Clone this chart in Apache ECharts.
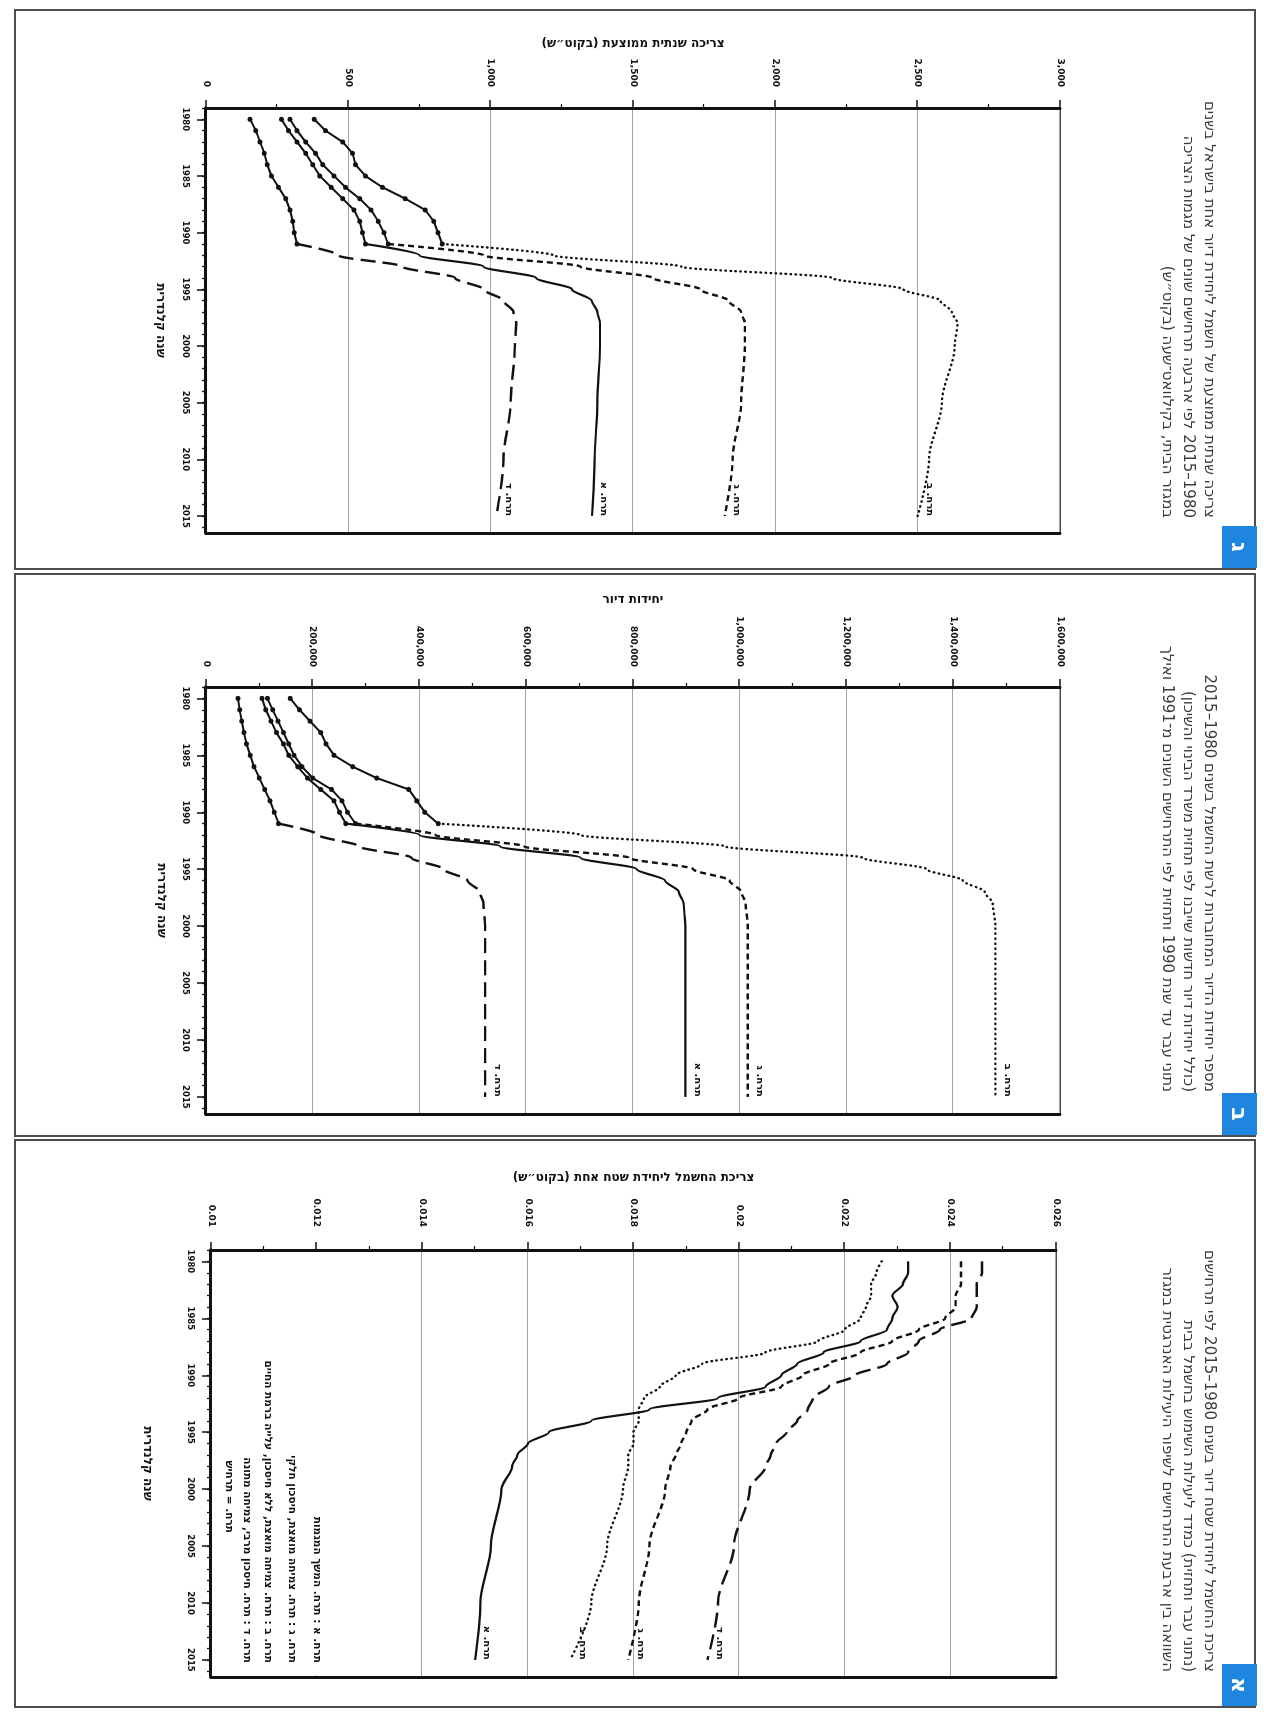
<!DOCTYPE html>
<html lang="he">
<head>
<meta charset="utf-8">
<title>צריכת חשמל במגזר הביתי — תרחישים</title>
<script src="https://cdn.jsdelivr.net/npm/echarts@6.0.0/dist/echarts.min.js"></script>
<style>
  html, body { margin: 0; padding: 0; background: #fff; }
  body { width: 1264px; height: 1713px; overflow: hidden; position: relative; }
  /* the page is scanned on its side: lay it out upright, then turn it 90deg clockwise */
  #page {
    position: absolute; left: 0; top: 0;
    width: 1713px; height: 1264px;
    transform-origin: 0 0;
    transform: translateX(1264px) rotate(90deg);
  }
  #chart { position: absolute; left: 0; top: 0; width: 1713px; height: 1264px; }
  .frame { position: absolute; top: 8px; height: 1242px; border: 2px solid #4d4d4d; box-sizing: border-box; }
  .caption {
    position: absolute; top: 44px; width: 500px;
    direction: rtl; text-align: right; white-space: nowrap;
    font: 15px/21px 'DejaVu Sans', sans-serif; color: #3a3a3a;
  }
  .badge {
    position: absolute; top: 7px; width: 42px; height: 35px;
    background: #1f86e0; color: #fff; text-align: center;
    font: bold 22px/35px 'DejaVu Sans', sans-serif;
  }
</style>
</head>
<body>
<div id="page">
  <div class="frame" style="left:9px;width:561px"></div>
  <div class="frame" style="left:573px;width:564px"></div>
  <div class="frame" style="left:1139px;width:569px"></div>

  <div id="chart" dir="rtl"></div>

  <div class="caption" style="left:18px">
    צריכה שנתית ממוצעת של חשמל ליחידת דיור אחת בישראל בשנים<br>
    1980–2015 לפי ארבעה תרחישים שונים של מגמות הצריכה<br>
    במגזר הביתי, בקילוואט־שעה (בקוט״ש)
  </div>
  <div class="caption" style="left:592px">
    מספר יחידות הדיור המחוברות לרשת החשמל בשנים 1980–2015<br>
    (כולל יחידות דיור חדשות שייבנו לפי תחזית משרד הבינוי והשיכון)<br>
    נתוני עבר עד שנת 1990 ותחזית לפי התרחישים השונים מ־1991 ואילך
  </div>
  <div class="caption" style="left:1172px">
    צריכת החשמל ליחידת שטח דיור בשנים 1980–2015 לפי תרחישים<br>
    (נתוני עבר ותחזית) כמדד ליעילות השימוש בחשמל בבית<br>
    השוואה בין ארבעת התרחישים לשיפור היעילות האנרגטית במגזר
  </div>

  <div class="badge" style="left:526px">ג</div>
  <div class="badge" style="left:1093px">ב</div>
  <div class="badge" style="left:1664px">א</div>
</div>

<script>
// ---------- data ----------
const YEAR_LABELS = [1980, 1985, 1990, 1995, 2000, 2005, 2010, 2015];
const YEAR_TICKS = [];
for (let y = 1979; y <= 2016; y++) YEAR_TICKS.push(y);

// scenario order: A solid, B dotted, C short dash, D long dash
const SCENARIOS = ['תרח. א', 'תרח. ב', 'תרח. ג', 'תרח. ד'];

const HIST_YEARS = [1980, 1981, 1982, 1983, 1984, 1985, 1986, 1987, 1988, 1989, 1990, 1991];
const PROJ_YEARS = [1991, 1992, 1993, 1994, 1995, 1996, 1997, 1998, 2000, 2005, 2010, 2015];
const ALEF_YEARS = [1980, 1981, 1982, 1983, 1984, 1985, 1986, 1987, 1988, 1989, 1990, 1991,
                    1992, 1993, 1994, 1995, 1996, 1997, 1998, 2000, 2005, 2010, 2015];

// panel ג — average yearly consumption
const GIMEL_HIST_A = [265, 290, 320, 350, 375, 400, 440, 480, 520, 540, 550, 560];
const GIMEL_HIST_B = [380, 420, 480, 515, 525, 560, 620, 700, 770, 800, 815, 830];
const GIMEL_HIST_C = [295, 320, 350, 385, 410, 450, 490, 540, 580, 605, 625, 640];
const GIMEL_HIST_D = [155, 175, 190, 205, 215, 230, 255, 280, 295, 305, 310, 320];
const GIMEL_PROJ_A = [560, 750, 975, 1160, 1285, 1355, 1375, 1384, 1384, 1375, 1365, 1356];
const GIMEL_PROJ_B = [830, 1220, 1670, 2200, 2450, 2580, 2620, 2640, 2630, 2585, 2540, 2500];
const GIMEL_PROJ_C = [640, 975, 1315, 1570, 1735, 1835, 1880, 1893, 1893, 1880, 1850, 1822];
const GIMEL_PROJ_D = [320, 465, 690, 875, 975, 1045, 1080, 1090, 1085, 1070, 1045, 1020];

// panel ב — dwelling units
const BET_HIST_A = [105000, 112000, 122000, 132000, 145000, 155000, 172000, 190000, 215000, 240000, 250000, 262000];
const BET_HIST_B = [158000, 175000, 195000, 215000, 225000, 240000, 275000, 320000, 380000, 395000, 410000, 435000];
const BET_HIST_C = [115000, 125000, 135000, 145000, 155000, 165000, 180000, 200000, 235000, 255000, 265000, 280000];
const BET_HIST_D = [60000, 63000, 67000, 71000, 76000, 83000, 90000, 100000, 110000, 120000, 128000, 136000];
const BET_PROJ_A = [262000, 400000, 551000, 702000, 807000, 860000, 886000, 895000, 898000, 898000, 898000, 898000];
const BET_PROJ_B = [435000, 702000, 973000, 1230000, 1350000, 1418000, 1459000, 1474000, 1479000, 1479000, 1479000, 1479000];
const BET_PROJ_C = [280000, 430000, 596000, 792000, 913000, 981000, 1003000, 1011000, 1015000, 1015000, 1015000, 1015000];
const BET_PROJ_D = [136000, 211000, 287000, 385000, 445000, 490000, 513000, 520000, 523000, 523000, 523000, 523000];

// panel א — consumption per unit of area
const ALEF_A = [0.0232, 0.0232, 0.0231, 0.0229, 0.0230, 0.0229, 0.0228, 0.0223, 0.0216, 0.0211, 0.0208, 0.0205,
                0.0196, 0.0183, 0.0172, 0.0164, 0.0160, 0.0158, 0.0157, 0.0155, 0.0153, 0.0151, 0.0150];
const ALEF_B = [0.0227, 0.0226, 0.0225, 0.0225, 0.0224, 0.0223, 0.0220, 0.0215, 0.0205, 0.0193, 0.0188, 0.0185,
                0.0182, 0.0181, 0.0181, 0.0180, 0.0180, 0.0179, 0.0179, 0.0178, 0.0175, 0.0172, 0.0168];
const ALEF_C = [0.0242, 0.0242, 0.0242, 0.0241, 0.0241, 0.0239, 0.0234, 0.0229, 0.0223, 0.0217, 0.0212, 0.0208,
                0.0200, 0.0194, 0.0191, 0.0190, 0.0189, 0.0188, 0.0187, 0.0186, 0.0183, 0.0181, 0.0179];
const ALEF_D = [0.0246, 0.0246, 0.0245, 0.0245, 0.0245, 0.0244, 0.0238, 0.0234, 0.0232, 0.0228, 0.0222, 0.0217,
                0.0214, 0.0213, 0.0211, 0.0209, 0.0207, 0.0206, 0.0205, 0.0202, 0.0199, 0.0196, 0.0194];

const LEGEND_LINES = [
  'תרח. א : תרח. המשך המגמות',
  'תרח. ג : תרח. צמיחה מואצת, חיסכון חלקי',
  'תרח. ב : תרח. צמיחה מואצת, ללא חיסכון, עלייה ברמת החיים',
  'תרח. ד : תרח. חיסכון מרבי, צמיחה מתונה',
  'תרח. = תרחיש',
];

// ---------- look ----------
const INK = '#111';
const FONT = 'DejaVu Sans';
const YEAR_MIN = 1979, YEAR_MAX = 2016.5;
const LINE_STYLES = [
  { type: 'solid', width: 2.2 },
  { type: [0.5, 4.5], width: 2.4, cap: 'round' },
  { type: [6, 4], width: 2.4 },
  { type: [15, 7], width: 2.4 },
];
const thousands = (v) => v.toLocaleString('en-US');

const PANELS = [
  { // ג
    grid: { left: 108, top: 204, width: 425, height: 854 },
    yMin: 0, yMax: 3000, yStep: 500, fmt: thousands,
    yName: 'צריכה שנתית ממוצעת (בקוט״ש)', yNameGap: 58, yLabelMargin: 21, xNameGap: 40,
    hist: [GIMEL_HIST_A, GIMEL_HIST_B, GIMEL_HIST_C, GIMEL_HIST_D],
    projYears: PROJ_YEARS, proj: [GIMEL_PROJ_A, GIMEL_PROJ_B, GIMEL_PROJ_C, GIMEL_PROJ_D],
  },
  { // ב
    grid: { left: 687, top: 204, width: 427, height: 854 },
    yMin: 0, yMax: 1600000, yStep: 200000, fmt: thousands,
    yName: 'יחידות דיור', yNameGap: 81, yLabelMargin: 20, xNameGap: 39,
    hist: [BET_HIST_A, BET_HIST_B, BET_HIST_C, BET_HIST_D],
    projYears: PROJ_YEARS, proj: [BET_PROJ_A, BET_PROJ_B, BET_PROJ_C, BET_PROJ_D],
  },
  { // א
    grid: { left: 1250, top: 208, width: 427, height: 845 },
    yMin: 0.010, yMax: 0.026, yStep: 0.002, fmt: (v) => String(+v.toFixed(4)),
    yName: 'צריכת החשמל ליחידת שטח אחת (בקוט״ש)', yNameGap: 66, yLabelMargin: 23, xNameGap: 58,
    hist: null,
    projYears: ALEF_YEARS, proj: [ALEF_A, ALEF_B, ALEF_C, ALEF_D],
  },
];

const pairs = (xs, ys) => xs.map((x, i) => [x, ys[i]]);
const tickText = { color: INK, fontFamily: FONT, fontWeight: 'bold' };

const grids = [], xAxes = [], yAxes = [], series = [];

PANELS.forEach((cfg, p) => {
  grids.push({ ...cfg.grid, show: true, borderColor: INK, borderWidth: 1.5, containLabel: false });

  // years: one axis for the yearly ticks, one for the five-year ticks and labels
  xAxes.push({
    type: 'value', gridIndex: p, min: YEAR_MIN, max: YEAR_MAX, position: 'bottom',
    axisLine: { show: true, onZero: false, lineStyle: { color: INK, width: 3 } },
    axisTick: { show: true, customValues: YEAR_TICKS, length: 4, lineStyle: { color: INK, width: 1.3 } },
    axisLabel: { show: false }, splitLine: { show: false },
  });
  xAxes.push({
    type: 'value', gridIndex: p, min: YEAR_MIN, max: YEAR_MAX, position: 'bottom',
    axisLine: { show: false, onZero: false },
    axisTick: { show: true, customValues: YEAR_LABELS, length: 9, lineStyle: { color: INK, width: 1.5 } },
    axisLabel: { show: true, customValues: YEAR_LABELS, margin: 16, fontSize: 8.5,
                 formatter: (v) => String(Math.round(v)), ...tickText },
    splitLine: { show: false },
    name: 'שנה קלנדרית', nameLocation: 'middle', nameGap: cfg.xNameGap,
    nameTextStyle: { fontSize: 12, fontWeight: 'bold', fontFamily: FONT, color: INK },
  });

  yAxes.push({
    type: 'value', gridIndex: p, min: cfg.yMin, max: cfg.yMax, interval: cfg.yStep, position: 'left',
    axisLine: { show: true, onZero: false, lineStyle: { color: INK, width: 3 } },
    axisTick: { show: true, length: 8, lineStyle: { color: INK, width: 1.5 } },
    minorTick: { show: true, splitNumber: 2, length: 4, lineStyle: { color: INK, width: 1.2 } },
    axisLabel: { margin: cfg.yLabelMargin, fontSize: 9, formatter: cfg.fmt, ...tickText },
    splitLine: { show: true, lineStyle: { color: '#a3a3a3', width: 1 } },
    name: cfg.yName, nameLocation: 'middle', nameGap: cfg.yNameGap,
    nameTextStyle: { fontSize: 12, fontWeight: 'bold', fontFamily: FONT, color: INK },
  });
  yAxes.push({
    type: 'value', gridIndex: p, min: cfg.yMin, max: cfg.yMax, position: 'right',
    axisLine: { show: true, onZero: false, lineStyle: { color: INK, width: 3 } },
    axisTick: { show: false }, axisLabel: { show: false }, splitLine: { show: false },
  });

  if (cfg.hist) {
    cfg.hist.forEach((ys) => {
      series.push({
        type: 'line', xAxisIndex: 2 * p, yAxisIndex: 2 * p,
        data: pairs(HIST_YEARS, ys),
        symbol: 'circle', symbolSize: 5, showSymbol: true,
        lineStyle: { color: INK, width: 2 }, itemStyle: { color: INK },
        silent: true, z: 3,
      });
    });
  }

  cfg.proj.forEach((ys, k) => {
    series.push({
      type: 'line', name: SCENARIOS[k], xAxisIndex: 2 * p, yAxisIndex: 2 * p,
      data: pairs(cfg.projYears, ys),
      showSymbol: false, smooth: 0.3, smoothMonotone: 'x',
      lineStyle: { color: INK, ...LINE_STYLES[k] },
      endLabel: {
        show: true, formatter: SCENARIOS[k], align: 'right', verticalAlign: 'bottom',
        distance: 0, padding: [0, 0, 7, 0],
        color: INK, fontFamily: FONT, fontSize: 10, fontWeight: 'bold',
      },
      silent: true,
    });
  });
});

// legend text inside panel א, just above the year axis, on a white patch
const LEGEND_RIGHT = [1663, 1663, 1663, 1663, 1533];
const LEGEND_MID = [947, 972, 996, 1017, 1035];
const legend = [{
  type: 'rect', silent: true, z: 5,
  shape: { x: 1252, y: 934, width: 423, height: 112 },
  style: { fill: '#fff' },
}].concat(LEGEND_LINES.map((t, i) => ({
  type: 'text', x: LEGEND_RIGHT[i], y: LEGEND_MID[i], silent: true, z: 6,
  style: {
    text: t, fill: INK, font: 'bold 10.5px "DejaVu Sans"',
    align: 'right', textAlign: 'right', verticalAlign: 'middle', textVerticalAlign: 'middle',
  },
})));

const chart = echarts.init(document.getElementById('chart'));
chart.setOption({
  animation: false,
  grid: grids,
  xAxis: xAxes,
  yAxis: yAxes,
  series,
  graphic: legend,
});
</script>
</body>
</html>
